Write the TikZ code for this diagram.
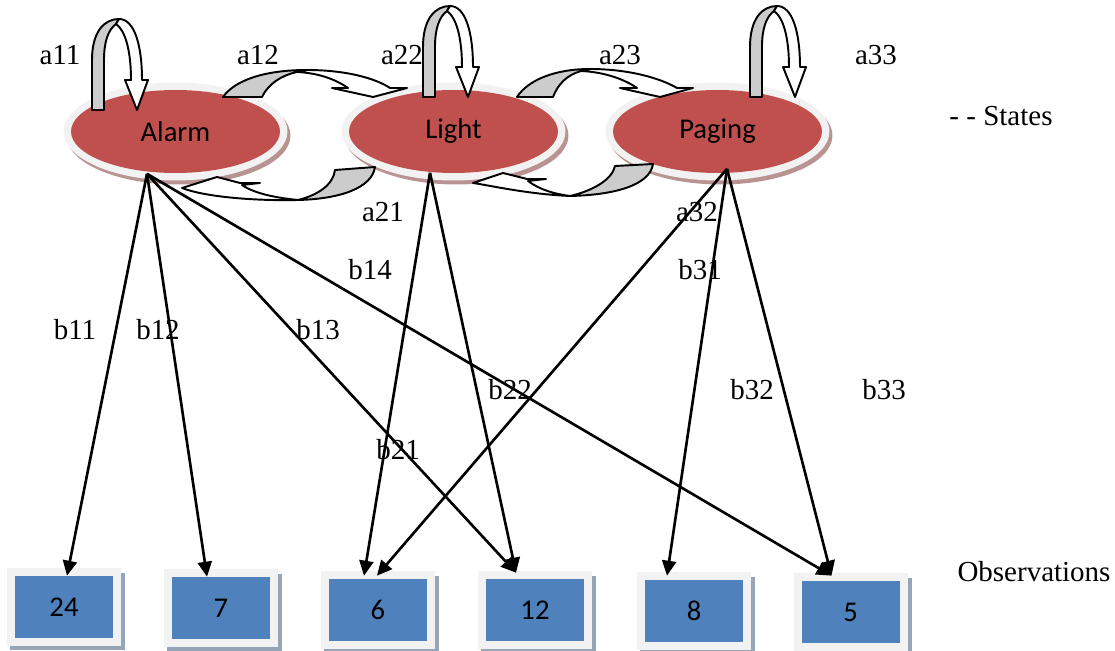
\documentclass[tikz,border=0pt]{standalone}
\usepackage{fontspec}
\setmainfont{Liberation Serif}
\newfontfamily\calibrifont{Carlito}
\usetikzlibrary{arrows.meta,calc,shapes.geometric}
\definecolor{stred}{HTML}{C0504D}
\definecolor{strim}{HTML}{F2F2F2}
\definecolor{stshadow}{HTML}{B99392}
\definecolor{obsblue}{HTML}{4F81BD}
\definecolor{obsshadow}{HTML}{97A5B8}
\definecolor{loopgray}{HTML}{CCCCCC}
\newcommand\stateback[2]{%
  \fill[stshadow] (#1+3,#2-4) ellipse [x radius=2.24cm, y radius=0.98cm];
  \fill[strim] (#1,#2) ellipse [x radius=2.24cm, y radius=0.98cm];
}
\newcommand\obsback[2]{%
  \fill[obsshadow] (#1-54,#2-43) rectangle (#1+61,#2+34);
  \fill[strim] (#1-57,#2-39) rectangle (#1+57,#2+39);
}
\begin{document}
\begin{tikzpicture}[x=0.02cm,y=0.02cm,
  lbl/.style={font=\fontsize{16.5}{19}\selectfont, inner sep=0pt},
  statenode/.style={ellipse, fill=stred, minimum width=4.18cm, minimum height=1.66cm, inner sep=0pt, font=\calibrifont\fontsize{16.3}{18}\selectfont},
  obsnode/.style={rectangle, fill=obsblue, minimum width=1.96cm, minimum height=1.24cm, inner sep=0pt, font=\calibrifont\fontsize{16.3}{18}\selectfont},
  emis/.style={line width=1.5pt, -{Triangle[length=8.5pt,width=8pt]}},
  bandgray/.style={fill=loopgray, draw=black, line width=1.1pt, line join=round},
  bandwhite/.style={fill=white, draw=black, line width=1.1pt, line join=round},
  loopar/.pic={
    \path[bandgray] (0,0) -- (0,50) .. controls (0,78) and (12,91) .. (27,91) -- (24,86) .. controls (16,80) and (12,68) .. (12,50) -- (12,0) -- cycle;
    \path[bandwhite] (27,91) .. controls (42,91) and (50,66) .. (50,30) -- (56,30) -- (45,0) -- (33,30) -- (39,30) .. controls (39,60) and (33,80) .. (24,86) -- cycle;
  }
]
\useasboundingbox (0,0) rectangle (1115,-651);

% states
\stateback{175.5}{-131.5}
\stateback{453.5}{-131.5}
\stateback{717.5}{-131.5}
\node[statenode] (alarm) at (175.5,-131.5) {Alarm};
\node[statenode] (light) at (453.5,-131.5) {Light};
\node[statenode] (paging) at (717.5,-131.5) {Paging};

% self loops
\pic at (92,-110) {loopar};
\pic at (423,-97) {loopar};
\pic at (750,-97) {loopar};

% a12
\path[bandgray] (223,-97) .. controls (235,-80) and (265,-70) .. (307,-70) -- (297,-72) .. controls (282,-75) and (268,-84) .. (262,-97) -- cycle;
\path[bandwhite] (307,-70) .. controls (345,-70) and (375,-78) .. (390,-88) -- (407,-88) -- (373,-97) -- (332,-88) -- (348,-88) .. controls (335,-79) and (318,-73) .. (297,-72) -- cycle;
% a23
\path[bandgray] (517,-97) .. controls (528,-80) and (555,-69) .. (590,-69) -- (581,-71) .. controls (567,-75) and (558,-84) .. (553,-97) -- cycle;
\path[bandwhite] (590,-69) .. controls (628,-69) and (660,-78) .. (677,-88) -- (693,-88) -- (660,-97) -- (620,-88) -- (637,-88) .. controls (624,-79) and (604,-72) .. (581,-71) -- cycle;
% a21
\path[bandgray] (335,-170) -- (375,-167) .. controls (372,-188) and (340,-199) .. (298,-200) .. controls (318,-195) and (333,-185) .. (335,-170) -- cycle;
\path[bandwhite] (298,-200) .. controls (255,-201) and (205,-197) .. (182,-188) -- (217,-177) -- (240,-183) -- (260,-183) -- (242,-185) .. controls (255,-194) and (278,-198) .. (298,-200) -- cycle;
% a32
\path[bandgray] (615,-166) -- (653,-164) .. controls (650,-185) and (615,-195) .. (570,-196) .. controls (592,-191) and (612,-180) .. (615,-166) -- cycle;
\path[bandwhite] (570,-196) .. controls (527,-194) and (493,-186) .. (473,-183) -- (503,-173) -- (527,-179) -- (546,-179) -- (528,-181) .. controls (540,-190) and (555,-194) .. (570,-196) -- cycle;

% observations
\obsback{64}{-607}
\obsback{221}{-608}
\obsback{378}{-610}
\obsback{535}{-610}
\obsback{694}{-611}
\obsback{850.5}{-612}
\node[obsnode] (o24) at (64,-607) {24};
\node[obsnode] (o7) at (221,-608) {7};
\node[obsnode] (o6) at (378,-610) {6};
\node[obsnode] (o12) at (535,-610) {12};
\node[obsnode] (o8) at (694,-611) {8};
\node[obsnode] (o5) at (850.5,-612) {5};

% connector ends
\coordinate (Aout) at ($(alarm.south)+(-28.5,-0.5)$);
\coordinate (Lout) at ($(light.south)+(-23.5,0.5)$);
\coordinate (Pout) at ($(paging.south)+(9.5,4.5)$);
\coordinate (t24) at ($(o24.north)+(3,0)$);
\coordinate (t7) at ($(o7.north)+(-14,0)$);
\coordinate (t6a) at ($(o6.north)+(-14,3)$);
\coordinate (t6b) at ($(o6.north)+(-1,3)$);
\coordinate (t12) at ($(o12.north)+(-19,6)$);
\coordinate (t8) at ($(o8.north)+(-27,4)$);
\coordinate (t5) at ($(o5.north)+(-19,5)$);

\draw[emis] (Aout) -- (t24);
\draw[emis] (Aout) -- (t7);
\draw[emis] (Aout) -- (t12);
\draw[emis] (Aout) -- (t5);
\draw[emis] (Lout) -- (t6a);
\draw[emis] (Lout) -- (t12);
\draw[emis] (Pout) -- (t6b);
\draw[emis] (Pout) -- (t8);
\draw[emis] (Pout) -- (t5);

% labels
\node[lbl] (la11) at (60,-55) {a11};
\node[lbl] (la12) at (258,-55) {a12};
\node[lbl] (la22) at (402,-55) {a22};
\node[lbl] (la23) at (620,-55) {a23};
\node[lbl] (la33) at (876,-55) {a33};
\node[lbl] (la21) at (383,-212) {a21};
\node[lbl] (la32) at (697,-212) {a32};
\node[lbl] (lb14) at (370,-270) {b14};
\node[lbl] (lb31) at (700,-270) {b31};
\node[lbl] (lb11) at (75,-330) {b11};
\node[lbl] (lb12) at (158,-330) {b12};
\node[lbl] (lb13) at (318,-330) {b13};
\node[lbl] (lb22) at (510,-390) {b22};
\node[lbl] (lb32) at (752,-390) {b32};
\node[lbl] (lb33) at (884,-390) {b33};
\node[lbl] (lb21) at (398,-450) {b21};
\node[lbl] (lstates) at (1001,-116) {- - States};
\node[lbl] (lobs) at (1034,-572) {Observations};
\end{tikzpicture}
\end{document}
